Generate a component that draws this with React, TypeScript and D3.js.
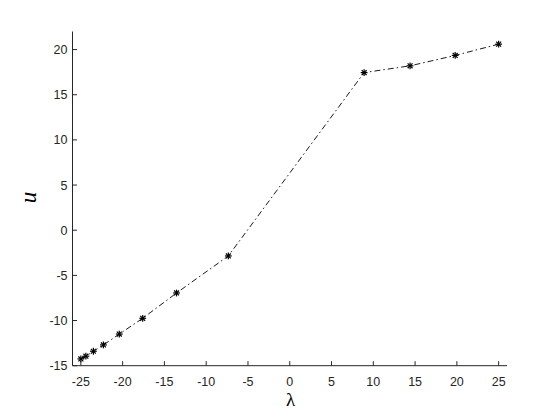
import React from "react";
import * as d3 from "d3";

const lambdaValues = [-25, -24.4, -23.5, -22.3, -20.4, -17.6, -13.55, -7.35, 8.9, 14.4, 19.8, 25];
const uValues = [-14.25, -13.95, -13.4, -12.7, -11.5, -9.75, -6.95, -2.85, 17.45, 18.2, 19.35, 20.6];
const xTicks = [-25, -20, -15, -10, -5, 0, 5, 10, 15, 20, 25];
const yTicks = [-15, -10, -5, 0, 5, 10, 15, 20];

const W = 560, H = 420;
const left = 72.5, right = 507, top = 31.5, bottom = 365.7;
const axisColor = "#262626";

export default function App() {
  const x = d3.scaleLinear().domain([-26, 26]).range([left, right]);
  const y = d3.scaleLinear().domain([-15, 22]).range([bottom, top]);
  const pts = lambdaValues.map((l, i) => [l, uValues[i]] as [number, number]);
  const line = d3.line<[number, number]>().x(d => x(d[0])).y(d => y(d[1]));
  const s = 3.4;
  const d2 = s * 0.72;
  return (
    <svg width={W} height={H} style={{ position: "absolute", left: 0, top: 0, background: "#fff" }}>
      <rect x={0} y={0} width={W} height={H} fill="#fff" />
      <line x1={left} x2={right} y1={bottom} y2={bottom} stroke={axisColor} strokeWidth={1} />
      <line x1={left} x2={left} y1={top} y2={bottom} stroke={axisColor} strokeWidth={1} />
      {xTicks.map(t => (
        <g key={"x" + t}>
          <line x1={x(t)} x2={x(t)} y1={bottom} y2={bottom - 4.5} stroke={axisColor} strokeWidth={1} />
          <text x={x(t)} y={385.5} textAnchor="middle" fontFamily="Liberation Sans, Arial, sans-serif" fontSize={12.5} fill={axisColor}>{t}</text>
        </g>
      ))}
      {yTicks.map(t => (
        <g key={"y" + t}>
          <line x1={left} x2={left + 4.5} y1={y(t)} y2={y(t)} stroke={axisColor} strokeWidth={1} />
          <text x={67.5} y={y(t) + 4.5} textAnchor="end" fontFamily="Liberation Sans, Arial, sans-serif" fontSize={12.5} fill={axisColor}>{t}</text>
        </g>
      ))}
      <path d={line(pts) || ""} fill="none" stroke="#000" strokeWidth={0.9} strokeDasharray="6 3 1.5 3" />
      {pts.map((p, i) => {
        const cx = x(p[0]), cy = y(p[1]);
        return (
          <g key={"m" + i} stroke="#000" strokeWidth={1.2}>
            <line x1={cx - s} x2={cx + s} y1={cy} y2={cy} />
            <line x1={cx} x2={cx} y1={cy - s} y2={cy + s} />
            <line x1={cx - d2} x2={cx + d2} y1={cy - d2} y2={cy + d2} />
            <line x1={cx - d2} x2={cx + d2} y1={cy + d2} y2={cy - d2} />
          </g>
        );
      })}
      <text x={290.5} y={405.5} textAnchor="middle" fontFamily="Liberation Serif, Times New Roman, serif" fontSize={19} fill="#000">λ</text>
      <text transform="translate(36,197.5) rotate(-90)" textAnchor="middle" fontFamily="Liberation Serif, Times New Roman, serif" fontStyle="italic" fontSize={23} fill="#000">u</text>
    </svg>
  );
}
